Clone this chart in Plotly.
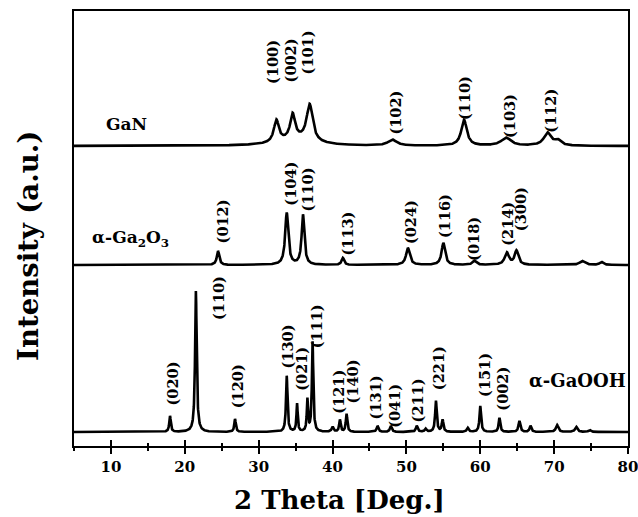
import numpy as np
import plotly.graph_objects as go

# ---------------- data ----------------
# each pattern: baseline offset, then peaks (2theta, height, half-width)
gan_offset = 300
gan_pos = [32.4, 34.6, 36.9, 35.0, 48.1, 57.8, 63.5, 69.1, 70.5]
gan_hgt = [22, 25, 37, 6, 6, 26, 8, 13, 5]
gan_wid = [0.40, 0.40, 0.50, 3.0, 0.7, 0.45, 0.8, 0.6, 0.5]

ga2o3_offset = 181
ga2o3_pos = [24.5, 33.8, 36.0, 41.4, 50.2, 55.0, 59.2, 63.6, 64.9, 73.8, 76.4]
ga2o3_hgt = [14, 52, 50, 7, 17, 22, 4, 12, 14, 4, 3]
ga2o3_wid = [0.2, 0.25, 0.22, 0.2, 0.3, 0.28, 0.3, 0.35, 0.3, 0.4, 0.3]

gaooh_offset = 14
gaooh_pos = [18.0, 21.5, 26.8, 33.8, 35.2, 36.6, 37.3, 40.0, 41.0, 41.9, 46.1, 47.9,
             51.4, 52.6, 54.0, 54.9, 58.3, 60.0, 62.6, 65.3, 66.8, 70.4, 73.0, 74.8]
gaooh_hgt = [16, 141, 13, 56, 28, 32, 90, 5, 12, 18, 6, 6,
             6, 3, 31, 12, 4, 26, 14, 11, 6, 7, 5, 2]
gaooh_wid = [0.12, 0.13, 0.12, 0.12, 0.10, 0.10, 0.11, 0.15, 0.12, 0.12, 0.15, 0.15,
             0.15, 0.15, 0.13, 0.13, 0.15, 0.13, 0.13, 0.15, 0.15, 0.2, 0.2, 0.2]

# peak labels: text, 2theta, bottom of label (intensity units)
gan_lbl = ["(100)", "(002)", "(101)", "(102)", "(110)", "(103)", "(112)"]
gan_lbl_x = [31.8, 34.3, 36.6, 48.4, 57.8, 63.9, 69.4]
gan_lbl_y = [360, 362, 370, 309, 324, 306, 311]

ga2o3_lbl = ["(012)", "(104)", "(110)", "(113)", "(024)", "(116)", "(018)", "(214)", "(300)"]
ga2o3_lbl_x = [25.1, 34.2, 36.6, 41.9, 50.5, 55.1, 59.0, 63.6, 65.4]
ga2o3_lbl_y = [201, 238, 233, 188, 200, 206, 183, 198, 213]

gaooh_lbl = ["(020)", "(110)", "(120)", "(130)", "(021)", "(111)", "(121)", "(140)",
             "(131)", "(041)", "(211)", "(221)", "(151)", "(002)"]
gaooh_lbl_x = [18.2, 24.5, 27.1, 33.9, 35.7, 37.8, 40.7, 42.7, 45.8, 48.3, 51.5, 54.3, 60.5, 62.9]
gaooh_lbl_y = [38, 124, 36, 76, 53, 96, 30, 41, 25, 16, 22, 54, 47, 33]

samples = ["GaN", "α-Ga<sub>2</sub>O<sub>3</sub>", "α-GaOOH"]
sample_x = [12.1, 12.6, 73.1]
sample_y = [322, 208, 66]

x_ticks = [10, 20, 30, 40, 50, 60, 70, 80]

# ---------------- build profiles ----------------
theta = np.arange(5.0, 80.0001, 0.02)


def profile(offset, pos, hgt, wid):
    y = np.full_like(theta, float(offset))
    for c, h, w in zip(pos, hgt, wid):
        y += h * w ** 2 / ((theta - c) ** 2 + w ** 2)
    return y


curves = [
    profile(gan_offset, gan_pos, gan_hgt, gan_wid),
    profile(ga2o3_offset, ga2o3_pos, ga2o3_hgt, ga2o3_wid),
    profile(gaooh_offset, gaooh_pos, gaooh_hgt, gaooh_wid),
]

FONT = "DejaVu Serif"
fig = go.Figure()
for yv in curves:
    fig.add_trace(go.Scatter(x=theta, y=yv, mode="lines",
                             line=dict(color="black", width=2.6), showlegend=False,
                             hoverinfo="skip"))
# invisible trace for the inner-tick overlay axis
fig.add_trace(go.Scatter(x=[5, 80], y=[0, 0], xaxis="x2", mode="lines",
                         line=dict(width=0), showlegend=False, hoverinfo="skip"))

ann = []
for lbls, xs, ys in [(gan_lbl, gan_lbl_x, gan_lbl_y),
                     (ga2o3_lbl, ga2o3_lbl_x, ga2o3_lbl_y),
                     (gaooh_lbl, gaooh_lbl_x, gaooh_lbl_y)]:
    for t, xx, yy in zip(lbls, xs, ys):
        ann.append(dict(x=xx, y=yy, text=t, textangle=-90, showarrow=False,
                        xanchor="center", yanchor="bottom",
                        font=dict(family=FONT, size=14.5, color="black", weight="bold")))
for t, xx, yy, sz in zip(samples, sample_x, sample_y, [17, 17, 18]):
    ann.append(dict(x=xx, y=yy, text=t, showarrow=False, xanchor="center", yanchor="middle",
                    font=dict(family=FONT, size=sz, color="black", weight="bold")))
# axis titles
ann.append(dict(x=0.48, y=0, xref="paper", yref="paper", yshift=-54, text="2 Theta [Deg.]",
                showarrow=False, xanchor="center", yanchor="middle",
                font=dict(family=FONT, size=26, color="black", weight="bold")))
ann.append(dict(x=0, y=0.46, xref="paper", yref="paper", xshift=-46, text="Intensity (a.u.)",
                textangle=-90, showarrow=False, xanchor="center", yanchor="middle",
                font=dict(family=FONT, size=27.5, color="black", weight="bold")))

fig.update_layout(
    width=638, height=517,
    margin=dict(l=74, r=10, t=11, b=71),
    paper_bgcolor="white", plot_bgcolor="white",
    annotations=ann,
    xaxis=dict(range=[5, 80], tickvals=x_ticks, ticks="outside", ticklen=6, tickwidth=2,
               tickcolor="black", showline=True, linecolor="black", linewidth=2,
               mirror=True, showgrid=False, zeroline=False, automargin=False,
               ticklabeloverflow="allow",
               minor=dict(dtick=5, tick0=0, ticks="outside", ticklen=3, tickwidth=2,
                          tickcolor="black", showgrid=False),
               tickfont=dict(family=FONT, size=15, color="black", weight="bold")),
    xaxis2=dict(range=[5, 80], overlaying="x", anchor="y", side="bottom",
                tickvals=x_ticks, ticks="inside", ticklen=6, tickwidth=2, tickcolor="black",
                showticklabels=False, showgrid=False, zeroline=False, showline=False,
                automargin=False,
                minor=dict(dtick=5, tick0=0, ticks="inside", ticklen=3, tickwidth=2,
                           tickcolor="black", showgrid=False)),
    yaxis=dict(range=[0, 435], showticklabels=False, ticks="", showline=True,
               linecolor="black", linewidth=2, mirror=True, showgrid=False, zeroline=False,
               automargin=False),
)

fig.write_html("out.html", config={"displayModeBar": False},
               post_script="document.body.style.margin='0';document.body.style.overflow='hidden';")
